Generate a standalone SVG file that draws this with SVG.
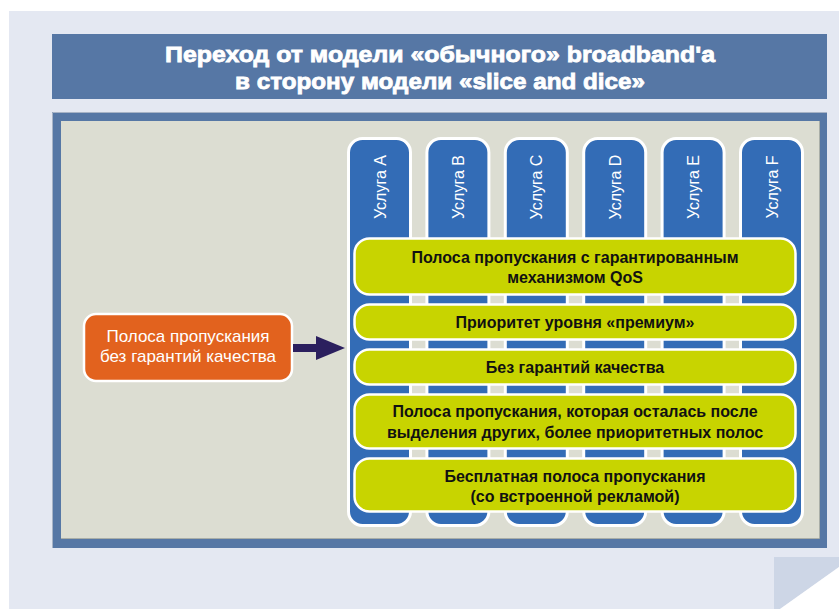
<svg xmlns="http://www.w3.org/2000/svg" width="839" height="609" viewBox="0 0 839 609">
  <defs>
    <style>
      .title { font-family: "Liberation Sans", Arial, sans-serif; font-weight: 900; font-size: 22.5px; fill: #ffffff; stroke: #ffffff; stroke-width: 0.8; text-anchor: middle; }
      .col rect { fill: #336cb6; stroke: #ffffff; stroke-width: 3; }
      .col text { font-family: "Liberation Sans", Arial, sans-serif; font-size: 16px; fill: #ffffff; text-anchor: middle; }
      .bar rect { fill: #c8d400; stroke: #ffffff; stroke-width: 2.5; }
      .bar text { font-family: "Liberation Sans", Arial, sans-serif; font-weight: bold; font-size: 16px; fill: #111111; text-anchor: middle; }
      .src rect { fill: #e2621e; stroke: #ffffff; stroke-width: 2.5; }
      .src text { font-family: "Liberation Sans", Arial, sans-serif; font-size: 17px; fill: #ffffff; text-anchor: middle; }
      .flow { stroke: #2b1f5e; stroke-width: 8; fill: none; }
    </style>
    <marker id="head" markerUnits="userSpaceOnUse" markerWidth="29" markerHeight="24" refX="1" refY="12" orient="auto" viewBox="0 0 29 24">
      <path d="M0,0 L29,12 L0,24 Z" fill="#2b1f5e"/>
    </marker>
  </defs>

  <!-- page background with folded corner -->
  <rect x="9" y="11" width="830" height="598" fill="#e4e8f2"/>
  <polygon points="774,557 839,557 839,567 780,609 774,609" fill="#cdd6e6"/>
  <polygon points="839,567 839,609 780,609" fill="#ffffff"/>

  <!-- heading -->
  <g id="title">
    <rect x="52" y="34" width="775" height="65" fill="#5677a5"/>
    <text class="title" x="440" y="62" textLength="550" lengthAdjust="spacingAndGlyphs">Переход от модели «обычного» broadband'a</text>
    <text class="title" x="440" y="89" textLength="410" lengthAdjust="spacingAndGlyphs">в сторону модели «slice and dice»</text>
  </g>

  <!-- framed panel -->
  <g id="frame">
    <rect x="52" y="112" width="775" height="436" fill="#5677a5"/>
    <path d="M52.5,548 V112.5 H827" stroke="#a7b3c6" stroke-width="1" fill="none"/>
    <rect x="61" y="121" width="758" height="418" fill="#dcddd2"/>
    <path d="M61,538.5 H819.5 V121" stroke="#a9aea8" stroke-width="1" fill="none"/>
  </g>

  <!-- service columns -->
  <g id="service-a" class="col">
    <rect x="348.5" y="138.5" width="62" height="387" rx="14"/>
    <text transform="translate(385.5,187) rotate(-90)">Услуга A</text>
  </g>
  <g id="service-b" class="col">
    <rect x="426.9" y="138.5" width="62" height="387" rx="14"/>
    <text transform="translate(463.9,187) rotate(-90)">Услуга B</text>
  </g>
  <g id="service-c" class="col">
    <rect x="505.3" y="138.5" width="62" height="387" rx="14"/>
    <text transform="translate(542.3,187) rotate(-90)">Услуга C</text>
  </g>
  <g id="service-d" class="col">
    <rect x="583.7" y="138.5" width="62" height="387" rx="14"/>
    <text transform="translate(620.7,187) rotate(-90)">Услуга D</text>
  </g>
  <g id="service-e" class="col">
    <rect x="662.1" y="138.5" width="62" height="387" rx="14"/>
    <text transform="translate(699.1,187) rotate(-90)">Услуга E</text>
  </g>
  <g id="service-f" class="col">
    <rect x="740.5" y="138.5" width="62" height="387" rx="14"/>
    <text transform="translate(777.5,187) rotate(-90)">Услуга F</text>
  </g>

  <!-- bandwidth tiers -->
  <g id="tier-qos" class="bar">
    <rect x="354.5" y="238.5" width="441" height="56" rx="15"/>
    <text x="575" y="263">Полоса пропускания с гарантированным</text>
    <text x="575" y="283">механизмом QoS</text>
  </g>
  <g id="tier-premium" class="bar">
    <rect x="354.5" y="304.5" width="441" height="35" rx="15"/>
    <text x="575" y="328">Приоритет уровня «премиум»</text>
  </g>
  <g id="tier-best-effort" class="bar">
    <rect x="354.5" y="349.5" width="441" height="35" rx="15"/>
    <text x="575" y="373">Без гарантий качества</text>
  </g>
  <g id="tier-remaining" class="bar">
    <rect x="354.5" y="394.5" width="441" height="54" rx="15"/>
    <text x="575" y="417">Полоса пропускания, которая осталась после</text>
    <text x="575" y="438">выделения других, более приоритетных полос</text>
  </g>
  <g id="tier-free" class="bar">
    <rect x="354.5" y="458.5" width="441" height="53" rx="15"/>
    <text x="575" y="482">Бесплатная полоса пропускания</text>
    <text x="575" y="502">(со встроенной рекламой)</text>
  </g>

  <!-- source bandwidth -->
  <g id="plain-bandwidth" class="src">
    <rect x="84" y="314" width="208" height="67" rx="12"/>
    <text x="188" y="342">Полоса пропускания</text>
    <text x="188" y="362">без гарантий качества</text>
  </g>

  <!-- connectors -->
  <g id="connectors">
    <line class="flow" x1="293" y1="348" x2="317" y2="348" marker-end="url(#head)"/>
  </g>
</svg>
